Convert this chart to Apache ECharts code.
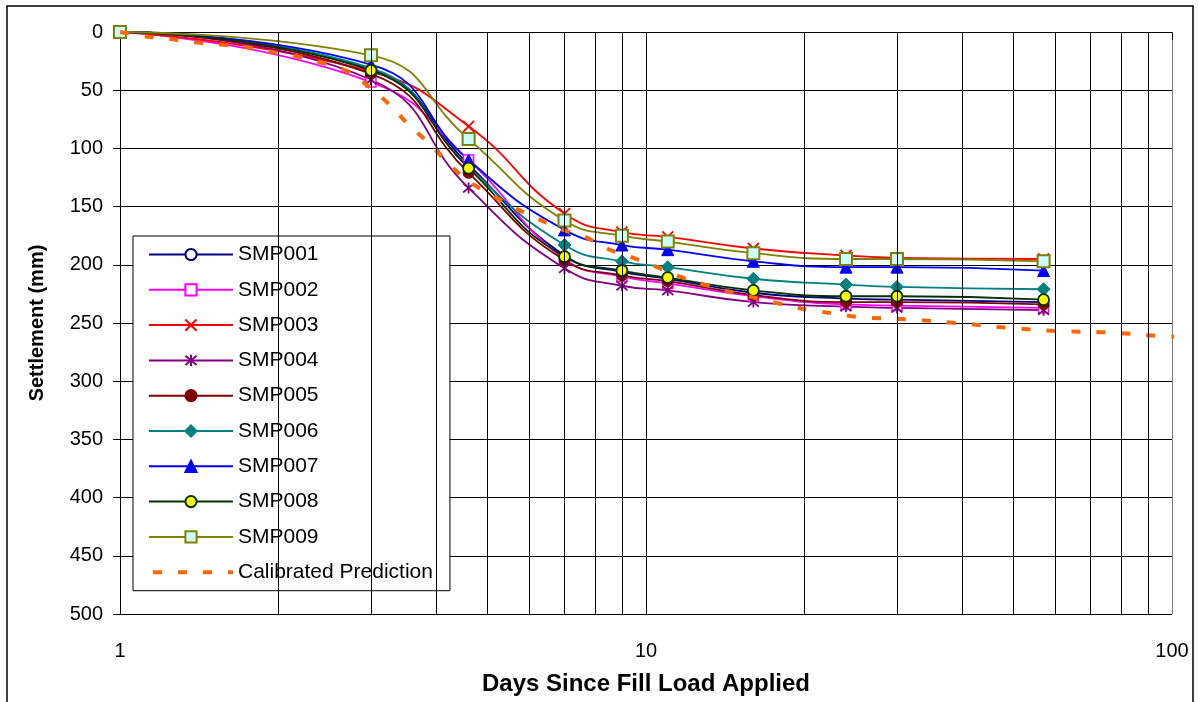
<!DOCTYPE html>
<html>
<head>
<meta charset="utf-8">
<script src="https://cdn.jsdelivr.net/npm/echarts@6/dist/echarts.min.js"></script>
<style>
  html, body { margin: 0; padding: 0; background: #fff; }
  #chart { width: 1199px; height: 702px; }
</style>
</head>
<body>
<div id="chart"></div>
<script>
var days = [1, 3, 4.6, 7, 9, 11, 16, 24, 30, 57];
var smp001 = [0, 32, 114, 192, 206, 212, 224, 229, 230, 232];
var smp002 = [0, 43, 110, 195, 210, 216, 227, 234, 235, 237];
var smp003 = [0, 34, 81, 156, 172, 176, 186, 192, 194, 195];
var smp004 = [0, 41, 134, 203, 218, 222, 232, 236, 237, 239];
var smp005 = [0, 36, 121, 196, 209, 214, 226, 232, 232, 234];
var smp006 = [0, 31, 116, 183, 197, 202, 212, 217, 219, 221];
var smp007 = [0, 28, 110, 170, 183, 187, 197, 202, 202, 205];
var smp008 = [0, 33, 117, 193, 205, 211, 222, 227, 227, 230];
var smp009 = [0, 20, 92, 162, 175, 180, 190, 195, 195, 197];

var predDays = [1, 1.13, 1.25, 1.4, 1.57, 1.74, 1.94, 2.17, 2.4, 2.68, 3.05, 3.31, 3.56, 3.88, 4.21, 4.63, 5.09, 5.56, 6.2, 6.86, 7.66, 8.42, 9.32, 10.5, 11.4, 12.9, 14.7, 18.2, 20.5, 22.9, 25.5, 31.8, 39, 48.7, 60.4, 75, 93.5, 105];
var predVals = [0, 4, 6, 9, 11, 13, 17, 21, 26, 33, 51, 66, 81, 96, 113, 129, 140, 150, 160, 169, 176, 186, 193, 202, 209, 217, 224, 234, 239, 242, 245, 247, 250, 254, 257, 258, 261, 262];

// vertical grid lines between the decades
var minorDays = [2, 3, 4, 5, 6, 7, 8, 9, 20, 30, 40, 50, 60, 70, 80, 90];

var font = "'Liberation Sans', Arial, sans-serif";
var crossPath = 'path://M0,0L10,10M10,0L0,10';
var starPath = 'path://M0,0L10,10M10,0L0,10M5,-1L5,11';
var diamondPath = 'path://M5,0L10,5L5,10L0,5Z';
var predDash = [9, 16];

function pairs(xs, ys) {
  var out = [];
  for (var i = 0; i < xs.length; i++) {
    out.push([xs[i], ys[i]]);
  }
  return out;
}

function smp(name, vals, lineColor, symbol, size, fill, border, borderWidth) {
  return {
    name: name,
    type: 'line',
    smooth: 0.5,
    data: pairs(days, vals),
    symbol: symbol,
    symbolSize: size,
    showAllSymbol: true,
    lineStyle: { color: lineColor, width: 1.8 },
    itemStyle: { color: fill, borderColor: border, borderWidth: borderWidth },
    emphasis: { disabled: true },
    z: 3
  };
}

var series = [
  {
    name: 'grid',
    type: 'line',
    data: [[1, 0]],
    symbol: 'none',
    lineStyle: { opacity: 0 },
    silent: true,
    z: 1,
    markLine: {
      silent: true,
      symbol: ['none', 'none'],
      animation: false,
      label: { show: false },
      lineStyle: { color: '#000', width: 1, type: 'solid' },
      emphasis: { disabled: true },
      data: minorDays.map(function (d) { return { xAxis: d }; })
    }
  },
  smp('SMP001', smp001, '#000080', 'circle', 9, '#fff', '#000080', 1.5),
  smp('SMP002', smp002, '#ff00ff', 'rect', 10, '#fff', '#ff00ff', 1.5),
  smp('SMP003', smp003, '#ff0000', crossPath, 11, 'rgba(0,0,0,0)', '#ff0000', 1.8),
  smp('SMP004', smp004, '#800080', starPath, 11, 'rgba(0,0,0,0)', '#800080', 1.8),
  smp('SMP005', smp005, '#800000', 'circle', 11, '#800000', '#800000', 1),
  smp('SMP006', smp006, '#008080', diamondPath, 13, '#008080', '#008080', 1),
  smp('SMP007', smp007, '#0000ff', 'triangle', 12, '#0000ff', '#0000ff', 1),
  smp('SMP008', smp008, '#003300', 'circle', 11, '#ffff00', '#003300', 1.8),
  smp('SMP009', smp009, '#808000', 'rect', 12, '#ccffff', '#808000', 2),
  {
    name: 'Calibrated Prediction',
    type: 'line',
    smooth: 0.4,
    clip: false,
    data: pairs(predDays, predVals),
    symbol: 'none',
    lineStyle: { color: '#ff6600', width: 4, type: predDash, cap: 'butt' },
    itemStyle: { color: '#ff6600' },
    emphasis: { disabled: true },
    z: 4
  }
];

var legendNames = ['SMP001', 'SMP002', 'SMP003', 'SMP004', 'SMP005', 'SMP006', 'SMP007', 'SMP008', 'SMP009'];
var legendData = legendNames.map(function (n) { return { name: n }; });
legendData.push({
  name: 'Calibrated Prediction',
  itemStyle: { opacity: 0 },
  lineStyle: { color: '#ff6600', width: 4, type: [9, 16], dashOffset: -4 }
});

var option = {
  backgroundColor: '#fff',
  animation: false,
  textStyle: { fontFamily: font },
  grid: { left: 120, right: 27, top: 32, bottom: 88, containLabel: false },
  graphic: [{
    type: 'rect',
    shape: { x: 7, y: 6, width: 1186, height: 702 },
    style: { fill: 'none', stroke: '#000', lineWidth: 1.5 },
    silent: true,
    z: 100
  }],
  legend: {
    orient: 'vertical',
    left: 133,
    top: 236,
    padding: [8, 17, 8, 14],
    borderColor: '#000',
    borderWidth: 1,
    backgroundColor: '#fff',
    itemWidth: 84,
    itemHeight: 14,
    itemGap: 14.3,
    textStyle: { fontSize: 21, color: '#000', fontFamily: font, lineHeight: 21 },
    data: legendData
  },
  xAxis: {
    type: 'log',
    logBase: 10,
    min: 1,
    max: 100,
    name: 'Days Since Fill Load Applied',
    nameLocation: 'middle',
    nameGap: 58,
    nameTextStyle: { fontSize: 24, fontWeight: 'bold', color: '#000', fontFamily: font },
    axisLine: { lineStyle: { color: '#000', width: 1 } },
    axisTick: { show: true, length: 8, lineStyle: { color: '#000' } },
    axisLabel: { fontSize: 20, color: '#000', margin: 27, fontFamily: font },
    splitLine: { show: true, lineStyle: { color: ['#000', '#000', '#808080'], width: 1 } },
    minorTick: { show: false },
    minorSplitLine: { show: false }
  },
  yAxis: {
    type: 'value',
    inverse: true,
    min: 0,
    max: 500,
    interval: 50,
    name: 'Settlement (mm)',
    nameLocation: 'middle',
    nameGap: 73,
    nameTextStyle: { fontSize: 20, fontWeight: 'bold', color: '#000', fontFamily: font },
    axisLine: { show: true, lineStyle: { color: '#000', width: 1 } },
    axisTick: { show: true, length: 7, lineStyle: { color: '#000' } },
    axisLabel: { fontSize: 20, color: '#000', margin: 17, fontFamily: font },
    splitLine: {
      show: true,
      lineStyle: { color: ['#808080', '#000', '#000', '#000', '#000', '#000', '#000', '#000', '#000', '#000', '#000'], width: 1 }
    }
  },
  series: series
};

var chart = echarts.init(document.getElementById('chart'));
chart.setOption(option);
</script>
</body>
</html>
